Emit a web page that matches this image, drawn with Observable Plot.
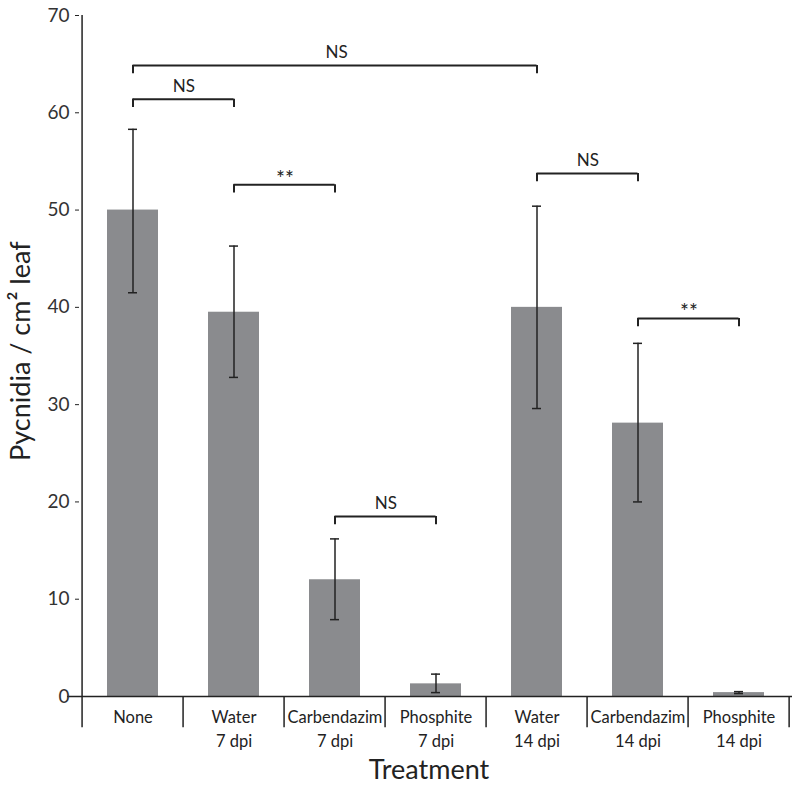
<!DOCTYPE html>
<html><head><meta charset="utf-8">
<script src="https://cdn.jsdelivr.net/npm/d3@7"></script>
<script src="https://cdn.jsdelivr.net/npm/@observablehq/plot@0.6"></script>
<style>body{margin:0;background:#fff;} svg{font-family:Lato,"Open Sans",sans-serif;}</style>
</head><body><div id="chart"></div>
<script>
const categories = ["None","Water\n7 dpi","Carbendazim\n7 dpi","Phosphite\n7 dpi","Water\n14 dpi","Carbendazim\n14 dpi","Phosphite\n14 dpi"];
const means = [50.0, 39.5, 12.0, 1.3, 40.0, 28.1, 0.4];
const errLow = [41.5, 32.8, 7.9, 0.4, 29.6, 20.0, 0.3];
const errHigh = [58.3, 46.3, 16.2, 2.3, 50.4, 36.3, 0.5];
const yTicks = [0,10,20,30,40,50,60,70];
const brackets = [
  {from:0, to:4, level:64.85, label:"NS"},
  {from:0, to:1, level:61.4, label:"NS"},
  {from:1, to:2, level:52.6, label:"**"},
  {from:4, to:5, level:53.75, label:"NS"},
  {from:5, to:6, level:38.85, label:"**"},
  {from:2, to:3, level:18.5, label:"NS"}
];

const W = 792, H = 787, mL = 79, mR = 0, mT = 15, mB = 91;
const step = (W - mL - mR) / categories.length;
const bars = categories.map((c,i)=>({cat:c, mean:means[i], lo:errLow[i], hi:errHigh[i]}));
const ink = "#222";

const bracketMarks = brackets.flatMap(b => {
  const a = categories[b.from], z = categories[b.to];
  const span = (b.to - b.from) * step;
  return [
    Plot.ruleY([b], {x1: () => a, x2: () => z, y: "level", insetLeft: 25.5, insetRight: 25.5, stroke: ink, strokeWidth: 2}),
    Plot.ruleX([a, z], {x: d => d, y1: b.level, y2: b.level - 0.85, stroke: ink, strokeWidth: 2}),
    Plot.text([b], {x: () => a, y: "level", text: "label", dx: span/2, dy: b.label === "NS" ? -13 : -6,
      fontSize: b.label === "NS" ? 17 : 21, fill: ink})
  ];
});

const plot = Plot.plot({
  width: W, height: H, marginLeft: mL, marginRight: mR, marginTop: mT, marginBottom: mB,
  style: {fontFamily: "Lato, 'Open Sans', sans-serif", background: "#fff"},
  x: {domain: categories, paddingInner: 0.5, paddingOuter: 0.25, axis: null},
  y: {domain: [0, 70], axis: null},
  marks: [
    Plot.barY(bars, {x: "cat", y: "mean", fill: "#8a8b8e"}),
    Plot.ruleX(bars, {x: "cat", y1: "lo", y2: "hi", stroke: ink, strokeWidth: 1.5}),
    Plot.tickY(bars, {x: "cat", y: "lo", insetLeft: 21, insetRight: 21, stroke: ink, strokeWidth: 1.5}),
    Plot.tickY(bars, {x: "cat", y: "hi", insetLeft: 21, insetRight: 21, stroke: ink, strokeWidth: 1.5}),
    Plot.ruleX([categories[0]], {x: d => d, y1: 0, y2: 70, dx: -step/2, stroke: ink, strokeWidth: 1.5}),
    Plot.ruleY([0], {stroke: ink, strokeWidth: 1.5, insetLeft: -12}),
    Plot.axisY({ticks: yTicks, tickSize: 4, tickPadding: 6, fontSize: 19, fill: "#333", stroke: ink, label: null}),
    Plot.ruleX(categories, {x: d => d, y1: 0, y2: -3.2, dx: -step/2, stroke: ink, strokeWidth: 1.5}),
    Plot.ruleX([categories[categories.length-1]], {x: d => d, y1: 0, y2: -3.2, dx: step/2 - 0.8, stroke: ink, strokeWidth: 1.5}),
    Plot.text(categories, {x: d => d, y: 0, text: d => d, dy: 10, lineAnchor: "top", lineHeight: 1.45, fontSize: 16.5, fill: "#222"}),
    ...bracketMarks,
    Plot.text(["Treatment"], {x: () => categories[3], y: 0, text: d => d, dy: 74, dx: -7, fontSize: 27, fill: "#222"}),
    Plot.text(["Pycnidia / cm² leaf"], {x: () => categories[0], y: 35.5, text: d => d, rotate: -90,
      dx: -step/2 - 61, fontSize: 27, fill: "#222"})
  ]
});
document.getElementById("chart").appendChild(plot);
</script></body></html>
